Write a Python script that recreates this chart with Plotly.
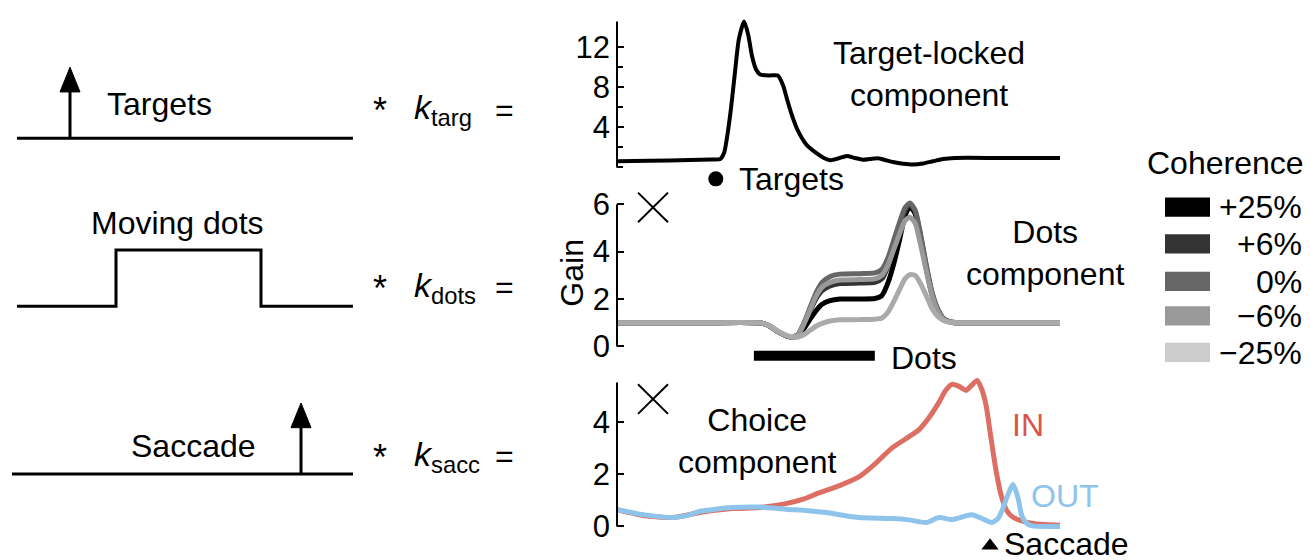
import plotly.graph_objects as go

# ---------------- data ----------------
# time axis: arbitrary units 0..100 (trial-aligned time)
targ_t = [0, 7.4, 16.5, 21.4, 23.3, 24.2, 24.8, 25.7, 26.6, 27.5, 28.7, 29.6, 30.5, 31.4, 32.3,
          34.5, 36.3, 37.5, 38.4, 39.5, 40.6, 41.8, 42.9, 45.1, 46.7, 48.1, 49.9, 51.9, 53.7,
          55.5, 57.1, 58.9, 60.5, 62.3, 64.6, 66.8, 69.1, 71.3, 73.6, 76.3, 86.5, 100]
targ_gain = [0.62, 0.66, 0.75, 0.8, 0.84, 1.5, 2.9, 5.8, 9.4, 12.8, 14.6, 13.3, 11.1, 9.8, 9.3,
             9.2, 9.2, 8.2, 6.8, 5.2, 3.9, 2.9, 2.2, 1.4, 0.95, 0.72, 0.9, 1.15, 0.95,
             0.78, 0.85, 0.92, 0.75, 0.55, 0.38, 0.3, 0.4, 0.62, 0.85, 0.95, 0.95, 0.95]

dots_t = [0, 18.7, 31.2, 32.7, 34.5, 36.3, 38.1, 39.5, 40.9, 42.2, 43.6, 44.9, 46.3, 48.1, 50.3,
          54.9, 58.2, 59.8, 61.2, 62.5, 63.9, 65.0, 66.1, 67.3, 68.4, 69.8, 71.1, 72.5, 73.8,
          75.2, 77.0, 80.8, 100]
coh_labels = ["+25%", "+6%", "0%", "\u22126%", "\u221225%"]
gain_p25 = [1.0, 1.0, 1.0, 0.98, 0.85, 0.62, 0.45, 0.38, 0.45, 0.75, 1.15, 1.5, 1.78, 1.93, 2.0,
            2.0, 2.02, 2.15, 2.7, 3.5, 4.6, 5.5, 5.9, 5.6, 4.7, 3.3, 2.2, 1.5, 1.15,
            1.03, 1.0, 1.0, 1.0]
gain_p6 = [1.0, 1.0, 1.0, 0.98, 0.85, 0.62, 0.45, 0.38, 0.5, 0.95, 1.5, 2.0, 2.35, 2.55, 2.65,
           2.67, 2.7, 2.85, 3.4, 4.2, 5.1, 5.7, 6.0, 5.7, 4.8, 3.4, 2.25, 1.5, 1.15,
           1.03, 1.0, 1.0, 1.0]
gain_0 = [1.0, 1.0, 1.0, 0.98, 0.85, 0.62, 0.45, 0.38, 0.52, 1.0, 1.65, 2.25, 2.7, 2.95, 3.05,
          3.07, 3.1, 3.25, 3.75, 4.5, 5.3, 5.85, 6.05, 5.75, 4.85, 3.45, 2.3, 1.55, 1.15,
          1.03, 1.0, 1.0, 1.0]
gain_m6 = [1.0, 1.0, 1.0, 0.98, 0.85, 0.62, 0.45, 0.38, 0.5, 0.95, 1.55, 2.1, 2.5, 2.7, 2.8,
           2.82, 2.85, 3.0, 3.45, 4.1, 4.8, 5.3, 5.45, 5.2, 4.4, 3.2, 2.15, 1.45, 1.12,
           1.02, 1.0, 1.0, 1.0]
gain_m25 = [1.0, 1.0, 1.0, 0.98, 0.86, 0.65, 0.48, 0.4, 0.4, 0.5, 0.68, 0.85, 0.97, 1.07, 1.12,
            1.13, 1.15, 1.2, 1.45, 1.9, 2.45, 2.85, 3.03, 3.0, 2.7, 2.15, 1.6, 1.25, 1.08,
            1.02, 1.0, 1.0, 1.0]

in_t = [0, 5.9, 12.6, 18.7, 26.0, 32.1, 38.1, 42.2, 45.6, 50.1, 54.6, 58.0, 62.1, 65.2, 68.2,
        70.4, 72.7, 74.2, 75.6, 77.2, 78.8, 80.1, 81.3, 82.2, 83.3, 84.4, 85.6, 86.7, 88.0,
        89.4, 91.0, 94.4, 100]
in_gain = [0.64, 0.42, 0.34, 0.53, 0.68, 0.72, 0.87, 1.05, 1.28, 1.55, 1.89, 2.35, 3.0, 3.35, 3.7,
           4.15, 4.75, 5.2, 5.43, 5.35, 5.2, 5.4, 5.58, 5.3, 4.64, 3.4, 2.1, 1.2, 0.6,
           0.35, 0.23, 0.1, 0.04]
out_t = [0, 5.9, 12.6, 16.5, 18.7, 26.0, 32.1, 38.1, 43.3, 47.2, 51.2, 54.6, 62.1, 65.9, 69.8,
         72.7, 75.6, 78.3, 80.1, 82.4, 84.6, 86.0, 86.9, 88.0, 89.4, 90.5, 91.4, 92.6, 93.7, 100]
out_gain = [0.64, 0.45, 0.34, 0.45, 0.58, 0.72, 0.74, 0.66, 0.6, 0.53, 0.42, 0.34, 0.3, 0.25, 0.15,
            0.34, 0.26, 0.38, 0.45, 0.3, 0.15, 0.3, 0.6, 1.1, 1.6, 1.1, 0.4, 0.1, 0.02, 0.0]

# event markers
targets_onset = 22.3
targets_mark_y = -1.14
dots_on, dots_off = 30.9, 58.2
dots_bar_y = -0.39
saccade_time = 84.2
saccade_mark_y = -0.74

# tick values
ticks1 = [4, 8, 12]
minor1 = [0, 2, 6, 10]
ticks2 = [0, 2, 4, 6]
ticks3 = [0, 2, 4]

# ---------------- styling ----------------
W, H = 1311, 560
FONT = "Liberation Sans, Arial, Helvetica, sans-serif"
FS = 32
TFS = 31
line_cols = ["#000000", "#333333", "#666666", "#999999", "#aaaaaa"]
swatch_cols = ["#000000", "#333333", "#666666", "#999999", "#cccccc"]
RED_LINE = "#dc6e64"
RED_TXT = "#d9544a"
BLUE = "#8ec4ec"


def PX(x):
    return x / W


def PY(y):
    return 1 - y / H


fig = go.Figure()

# panel 1
fig.add_trace(go.Scatter(x=targ_t, y=targ_gain, mode="lines", line=dict(color="black", width=4, shape="spline", smoothing=0.6),
                         xaxis="x", yaxis="y", showlegend=False, hoverinfo="skip"))
fig.add_trace(go.Scatter(x=[targets_onset], y=[targets_mark_y], mode="markers", marker=dict(color="black", size=15),
                         xaxis="x", yaxis="y", showlegend=False, cliponaxis=False, hoverinfo="skip"))

# panel 2
gains = [gain_p25, gain_p6, gain_0, gain_m6, gain_m25]
for g, c, lab in zip(gains, line_cols, coh_labels):
    fig.add_trace(go.Scatter(x=dots_t, y=g, mode="lines", name=lab,
                             line=dict(color=c, width=5, shape="spline", smoothing=0.6),
                             xaxis="x2", yaxis="y2", showlegend=False, hoverinfo="skip"))
fig.add_trace(go.Scatter(x=[dots_on, dots_off], y=[dots_bar_y, dots_bar_y], mode="lines",
                         line=dict(color="black", width=10), xaxis="x2", yaxis="y2", showlegend=False, hoverinfo="skip"))

# panel 3
fig.add_trace(go.Scatter(x=in_t, y=in_gain, mode="lines", line=dict(color=RED_LINE, width=5, shape="spline", smoothing=0.6),
                         xaxis="x3", yaxis="y3", showlegend=False, hoverinfo="skip"))
fig.add_trace(go.Scatter(x=out_t, y=out_gain, mode="lines", line=dict(color=BLUE, width=5, shape="spline", smoothing=0.6),
                         xaxis="x3", yaxis="y3", showlegend=False, hoverinfo="skip"))
fig.add_trace(go.Scatter(x=[saccade_time], y=[saccade_mark_y], mode="markers",
                         marker=dict(color="black", size=15, symbol="triangle-up"),
                         xaxis="x3", yaxis="y3", showlegend=False, cliponaxis=False, hoverinfo="skip"))

xdom = [PX(617), PX(1060)]
axis_common = dict(showgrid=False, zeroline=False, showline=False, ticks="inside", ticklen=7, tickwidth=2,
                   tickcolor="black", tickfont=dict(family=FONT, size=TFS, color="black"), ticklabelstandoff=6)
xcommon = dict(visible=False, range=[0, 100], showgrid=False, zeroline=False)

fig.update_layout(
    width=W, height=H, margin=dict(l=0, r=0, t=0, b=0),
    paper_bgcolor="white", plot_bgcolor="rgba(0,0,0,0)",
    font=dict(family=FONT, size=FS, color="black"),
    xaxis=dict(domain=xdom, anchor="y", **xcommon),
    xaxis2=dict(domain=xdom, anchor="y2", **xcommon),
    xaxis3=dict(domain=xdom, anchor="y3", **xcommon),
    yaxis=dict(domain=[PY(190), PY(10)], range=[-2.716, 15.06], anchor="x", tickvals=ticks1,
               minor=dict(tickvals=minor1, ticks="inside", ticklen=6, tickwidth=2, tickcolor="black"), **axis_common),
    yaxis2=dict(domain=[PY(366), PY(190)], range=[-0.929, 6.404], anchor="x2", tickvals=ticks2, **axis_common),
    yaxis3=dict(domain=[PY(558), PY(372)], range=[-1.208, 5.811], anchor="x3", tickvals=ticks3, **axis_common),
)

shapes = []
# y axis lines
for xr, yr, top in [("x domain", "y", 14.6), ("x2 domain", "y2", 6.0), ("x3 domain", "y3", 5.5)]:
    shapes.append(dict(type="line", xref=xr, yref=yr, x0=0, x1=0, y0=0, y1=top, line=dict(color="black", width=2)))

# X (multiplication) marks
for cy in [203, 397]:
    shapes.append(dict(type="line", xref="paper", yref="paper", x0=PX(638), x1=PX(668), y0=PY(cy - 15), y1=PY(cy + 15),
                       line=dict(color="black", width=2)))
    shapes.append(dict(type="line", xref="paper", yref="paper", x0=PX(638), x1=PX(668), y0=PY(cy + 15), y1=PY(cy - 15),
                       line=dict(color="black", width=2)))

# left schematic
LW = 3
# targets row
shapes.append(dict(type="line", xref="paper", yref="paper", x0=PX(17), x1=PX(353), y0=PY(133), y1=PY(133), line=dict(color="black", width=LW)))
shapes.append(dict(type="line", xref="paper", yref="paper", x0=PX(70), x1=PX(70), y0=PY(133), y1=PY(80), line=dict(color="black", width=LW)))
shapes.append(dict(type="path", xref="paper", yref="paper",
                   path=f"M {PX(60)},{PY(86)} L {PX(70)},{PY(61)} L {PX(80)},{PY(86)} Z",
                   fillcolor="black", line=dict(color="black", width=1)))
# moving dots row
shapes.append(dict(type="path", xref="paper", yref="paper",
                   path=f"M {PX(17)},{PY(303)} L {PX(116)},{PY(303)} L {PX(116)},{PY(246)} L {PX(261)},{PY(246)} L {PX(261)},{PY(303)} L {PX(353)},{PY(303)}",
                   line=dict(color="black", width=LW)))
# saccade row
shapes.append(dict(type="line", xref="paper", yref="paper", x0=PX(12), x1=PX(353), y0=PY(473), y1=PY(473), line=dict(color="black", width=LW)))
shapes.append(dict(type="line", xref="paper", yref="paper", x0=PX(301), x1=PX(301), y0=PY(473), y1=PY(420), line=dict(color="black", width=LW)))
shapes.append(dict(type="path", xref="paper", yref="paper",
                   path=f"M {PX(291)},{PY(426)} L {PX(301)},{PY(401)} L {PX(311)},{PY(426)} Z",
                   fillcolor="black", line=dict(color="black", width=1)))

# legend swatches
sw_tops = [193, 230, 268, 303, 340]
for top, c in zip(sw_tops, swatch_cols):
    shapes.append(dict(type="rect", xref="paper", yref="paper", x0=PX(1165), x1=PX(1210), y0=PY(top + 19.5), y1=PY(top),
                       fillcolor=c, line=dict(width=0)))

fig.update_layout(shapes=shapes)

ann = []


def text(x, y, s, size=FS, color="black", xanchor="center", **kw):
    ann.append(dict(x=PX(x), y=PY(y), xref="paper", yref="paper", text=s, showarrow=False,
                    font=dict(family=FONT, size=size, color=color), xanchor=xanchor, yanchor="middle", **kw))


# schematic labels
text(159, 98, "Targets")
text(177, 219, "Moving dots")
text(193, 445, "Saccade")
for yc, sub in [(104, "targ"), (284, "dots"), (455, "sacc")]:
    text(380, yc + 1, "*", size=36)
    text(412, yc, f"<i>k</i><sub>{sub}</sub>", size=34, xanchor="left")
    text(504, yc, "=", size=FS)

# component labels
text(929, 68, "Target-locked<br>component")
text(1045, 249, "Dots<br>component")
text(757, 439, "Choice<br>component")
text(572, 269, "Gain", textangle=-90)
text(1010, 423, "IN", color=RED_TXT, xanchor="left")
text(1029, 495, "OUT", color=BLUE, xanchor="left")

# event labels (data coords)
ann.append(dict(x=targets_onset, y=targets_mark_y, xref="x", yref="y", text="Targets", showarrow=False,
                xanchor="left", yanchor="middle", xshift=21, font=dict(family=FONT, size=FS, color="black")))
ann.append(dict(x=dots_off, y=dots_bar_y, xref="x2", yref="y2", text="Dots", showarrow=False,
                xanchor="left", yanchor="middle", xshift=14, yshift=-2, font=dict(family=FONT, size=FS, color="black")))
ann.append(dict(x=saccade_time, y=saccade_mark_y, xref="x3", yref="y3", text="Saccade", showarrow=False,
                xanchor="left", yanchor="middle", xshift=12, yshift=2, font=dict(family=FONT, size=FS, color="black")))

# legend
text(1225, 158, "Coherence")
for top, lab in zip(sw_tops, coh_labels):
    text(1304, top + 10, lab, xanchor="right")

fig.update_layout(annotations=ann)

fig.write_html("out.html", config={"displayModeBar": False},
               post_script="document.body.style.margin='0px';document.body.style.padding='0px';")
